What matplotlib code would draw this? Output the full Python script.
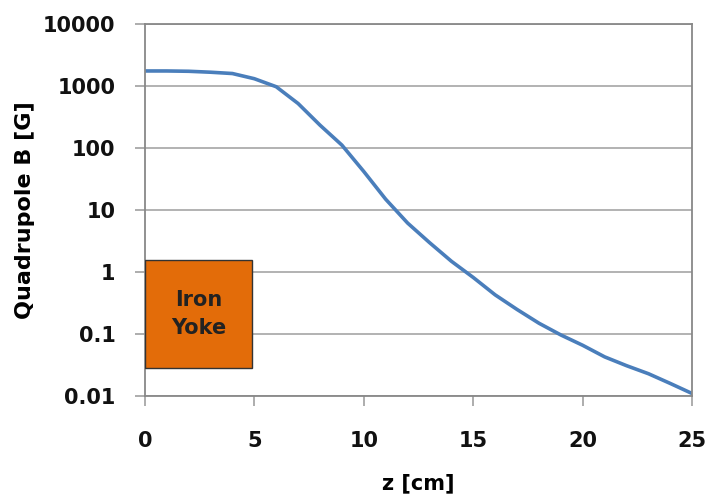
import matplotlib
matplotlib.use("Agg")
from matplotlib import pyplot as plt
from matplotlib.patches import Rectangle

# field profile
z_cm = [0, 1, 2, 3, 4, 5, 6, 7, 8, 9, 10, 11, 12, 13,
        14, 15, 16, 17, 18, 19, 20, 21, 22, 23, 24, 25]
b_gauss = [1760, 1760, 1740, 1680, 1600, 1320, 980, 525, 235, 112, 42, 15, 6.2, 3.0,
           1.5, 0.82, 0.43, 0.25, 0.15, 0.097, 0.066, 0.043, 0.031, 0.023, 0.016, 0.011]

x_ticks = [0, 5, 10, 15, 20, 25]
y_ticks = [0.01, 0.1, 1, 10, 100, 1000, 10000]
y_labels = ['0.01', '0.1', '1', '10', '100', '1000', '10000']

# iron yoke box (z range, B range)
yoke_z = (0, 4.9)
yoke_b = (0.028, 1.55)

plt.rcParams['font.family'] = 'DejaVu Sans'
plt.rcParams['font.weight'] = 'bold'

fig = plt.figure(figsize=(7.1, 5.04), dpi=100)
ax = fig.add_axes([0.204, 0.214, 0.771, 0.738])

ax.set_yscale('log')
ax.set_xlim(0, 25)
ax.set_ylim(0.01, 10000)

ax.grid(axis='y', color='#a6a6a6', linewidth=1.2)
ax.set_axisbelow(True)

ax.plot(z_cm, b_gauss, color='#4a7ebb', linewidth=2.6, solid_capstyle='round',
        solid_joinstyle='round')

ax.add_patch(Rectangle((yoke_z[0], yoke_b[0]), yoke_z[1] - yoke_z[0],
                       yoke_b[1] - yoke_b[0], facecolor='#e36c09',
                       edgecolor='#333333', linewidth=1, zorder=3))
ax.text((yoke_z[0] + yoke_z[1]) / 2, (yoke_b[0] * yoke_b[1]) ** 0.5, 'Iron\nYoke',
        ha='center', va='center', fontsize=15, fontweight='bold',
        color='#222222', linespacing=1.5, zorder=4)

ax.set_xticks(x_ticks)
ax.set_xticklabels([str(t) for t in x_ticks])
ax.set_yticks(y_ticks)
ax.set_yticklabels(y_labels)
ax.minorticks_off()
ax.tick_params(axis='both', direction='out', length=7, width=1.2,
               color='#a0a0a0', labelsize=15, labelcolor='#111111')
ax.tick_params(axis='x', pad=18)
ax.tick_params(axis='y', pad=14)

for side in ax.spines.values():
    side.set_color('#888888')
    side.set_linewidth(1.3)

ax.set_xlabel('z [cm]', fontsize=15, fontweight='bold', labelpad=16)
ax.set_ylabel('Quadrupole B [G]', fontsize=16, fontweight='bold', labelpad=6)

fig.savefig('out.png', dpi=100)
